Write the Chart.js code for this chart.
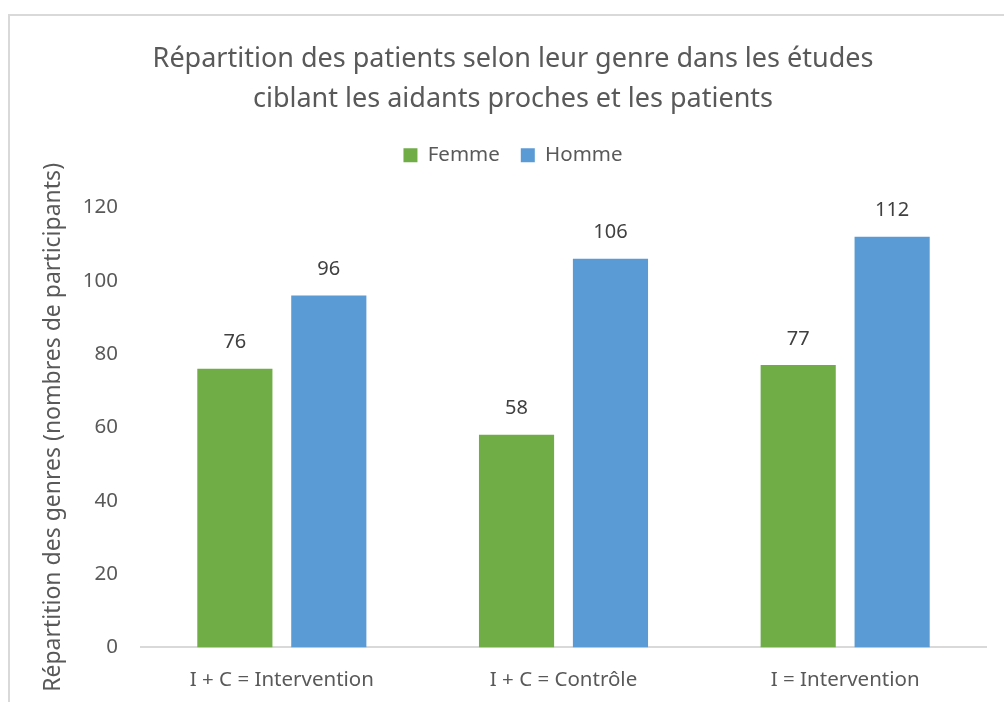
<!DOCTYPE html>
<html lang="fr">
<head>
    <meta charset="UTF-8">
    <title>Répartition des patients selon leur genre</title>
    <script src="https://cdn.jsdelivr.net/npm/chart.js@4/dist/chart.umd.min.js"></script>
    <style>
        body { margin: 0; background: #fff; }
        #wrap { position: relative; width: 1004px; height: 702px; overflow: hidden; }
        #frame { position: absolute; left: 8px; top: 14px; width: 1100px; height: 800px; border: 2px solid #d9d9d9; }
        #myChart { position: absolute; left: 0; top: 0; }
    </style>
</head>
<body>
    <div id="wrap">
        <div id="frame"></div>
        <canvas id="myChart" width="1004" height="702"></canvas>
    </div>

<script type="text/javascript">
    // données
    let categories = ['I + C = Intervention', 'I + C = Contrôle', 'I = Intervention'];
    let femmes = [76, 58, 77];
    let hommes = [96, 106, 112];
    let yTicks = [0, 20, 40, 60, 80, 100, 120];

    let fontName = "'Noto Sans', 'Open Sans', sans-serif";
    let textColor = '#595959';

    // étiquettes de valeurs au-dessus des barres
    let valueLabels = {
        id: 'valueLabels',
        afterDatasetsDraw: function (chart) {
            let ctx = chart.ctx;
            ctx.save();
            ctx.font = '20px ' + fontName;
            ctx.fillStyle = '#404040';
            ctx.textAlign = 'center';
            ctx.textBaseline = 'bottom';
            chart.data.datasets.forEach(function (ds, i) {
                chart.getDatasetMeta(i).data.forEach(function (bar, j) {
                    ctx.fillText(ds.data[j], bar.x, bar.y - 16);
                });
            });
            ctx.restore();
        }
    };

    // un peu d'espace sous la légende
    let legendMargin = {
        id: 'legendMargin',
        beforeInit: function (chart) {
            let fit = chart.legend.fit;
            chart.legend.fit = function () {
                fit.bind(chart.legend)();
                this.height += 32;
            };
        }
    };

    let ctx = document.getElementById('myChart').getContext('2d');
    window.barChart = new Chart(ctx, {
        type: 'bar',
        data: {
            labels: categories,
            datasets: [
                { label: 'Femme', data: femmes, backgroundColor: '#70ad47', categoryPercentage: 0.667, barPercentage: 0.8 },
                { label: 'Homme', data: hommes, backgroundColor: '#5b9bd5', categoryPercentage: 0.667, barPercentage: 0.8 }
            ]
        },
        options: {
            responsive: false,
            animation: false,
            layout: { padding: { top: 39, left: 40, right: 18, bottom: -10 } },
            plugins: {
                title: {
                    display: true,
                    text: ['Répartition des patients selon leur genre dans les études', 'ciblant les aidants proches et les patients'],
                    color: textColor,
                    font: { family: fontName, size: 27, weight: 'normal', lineHeight: 1.48 },
                    padding: { top: 0, bottom: 5 }
                },
                legend: {
                    position: 'top',
                    labels: {
                        color: textColor,
                        font: { family: fontName, size: 20.5 },
                        boxWidth: 14,
                        boxHeight: 14,
                        padding: 21
                    }
                },
                tooltip: { enabled: false }
            },
            scales: {
                x: {
                    grid: { display: false, drawTicks: false },
                    border: { display: true, color: '#d9d9d9', width: 2 },
                    ticks: { color: textColor, font: { family: fontName, size: 20.5 }, padding: 20 }
                },
                y: {
                    min: 0,
                    max: 120,
                    afterBuildTicks: function (axis) {
                        axis.ticks = yTicks.map(function (v) { return { value: v }; });
                    },
                    afterFit: function (axis) {
                        axis.width = 101;
                    },
                    grid: { display: false, drawTicks: false },
                    border: { display: false },
                    ticks: { color: textColor, font: { family: fontName, size: 20.5 }, padding: 23 },
                    title: {
                        display: true,
                        text: 'Répartition des genres (nombres de participants)',
                        color: textColor,
                        font: { family: fontName, size: 23 },
                        padding: { top: 0, bottom: 12 }
                    }
                }
            }
        },
        plugins: [valueLabels, legendMargin]
    });
</script>
</body>
</html>
